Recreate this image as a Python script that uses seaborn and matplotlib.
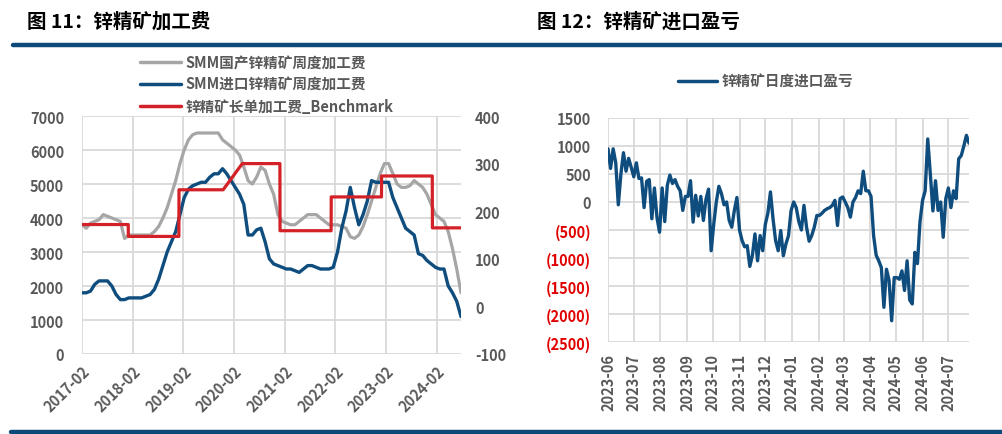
import numpy as np
import pandas as pd
import matplotlib
matplotlib.use('Agg')
import matplotlib.pyplot as plt
import matplotlib.dates as mdates
from matplotlib.lines import Line2D
import seaborn as sns

# ---------------- data ----------------
tc_start, tc_end = '2017-02-01', '2024-07-25'
# SMM domestic zinc concentrate weekly TC (yuan/t), read monthly
domestic_tc = [3800, 3700, 3850, 3900, 3950, 4100, 4050, 4000, 3950, 3900,
               3400, 3500, 3500, 3500, 3500, 3500, 3500, 3600, 3750, 4000,
               4300, 4700, 5100, 5600, 6000, 6300, 6450, 6500, 6500, 6500,
               6500, 6500, 6500, 6300, 6200, 6100, 6000, 5850, 5500, 5100,
               5000, 5200, 5500, 5400, 5000, 4700, 4100, 3900, 3850, 3800,
               3800, 3900, 4000, 4100, 4100, 4100, 4000, 3900, 3800, 3800,
               3800, 3750, 3700, 3450, 3400, 3500, 3750, 4100, 4500, 4900,
               5300, 5600, 5600, 5300, 5000, 4900, 4900, 4950, 5100, 5000,
               4900, 4700, 4400, 4100, 4000, 3900, 3600, 3100, 2500, 1800]
# SMM imported zinc concentrate weekly TC (yuan/t), read monthly
import_tc = [1800, 1800, 1850, 2050, 2150, 2150, 2150, 2000, 1750, 1600,
             1600, 1650, 1650, 1650, 1650, 1700, 1750, 1900, 2200, 2600,
             3000, 3300, 3600, 4100, 4600, 4850, 4950, 5000, 5050, 5050,
             5200, 5300, 5300, 5450, 5300, 5100, 4900, 4700, 4400, 3500,
             3500, 3650, 3700, 3300, 2800, 2650, 2600, 2550, 2500, 2500,
             2450, 2400, 2500, 2600, 2600, 2550, 2500, 2500, 2500, 2550,
             3000, 3700, 4200, 4900, 4300, 3800, 4100, 4500, 5100, 5050,
             5050, 5050, 5050, 4600, 4300, 4000, 3700, 3600, 3500, 2950,
             2900, 2750, 2650, 2550, 2500, 2500, 2000, 1800, 1550, 1100]
# Benchmark TC ($/t, right axis)
bench_dates = ['2017-02-01', '2017-12-31', '2018-01-01', '2018-12-31',
               '2019-01-01', '2019-11-15', '2020-04-01', '2020-12-28',
               '2020-12-29', '2022-01-01', '2022-01-02', '2022-12-30',
               '2022-12-31', '2023-12-31', '2024-01-01', '2024-07-25']
bench_values = [172, 172, 147, 147, 245, 245, 300, 300,
                159, 159, 230, 230, 274, 274, 165, 165]

# Zinc concentrate daily import profit/loss (yuan/t), read every 3 days
pnl_start = '2023-06-01'
pnl_values = [950, 600, 950, 700, -50, 500, 880, 550, 780, 620,
              450, 700, 420, 430, -100, 370, 400, -300, 250, -280,
              -540, 250, -350, 300, 480, 330, 400, 280, 200, -150, 100,
              100, 380, -360, 120, -250, 100, -330, 50, 230, -870,
              -400, 0, 280, 150, -50, 0, -330, -450, -150, 80,
              -500, -690, -800, -780, -1150, -950, -570, -1050, -600, -870,
              -400, -200, 180, -300, -690, -870, -510, -960, -750, -600,
              -155, 0, -100, -350, -500, -60, -450, -700, -600, -450,
              -240, -240, -200, -150, -120, -100, -60, 30, -420, 60,
              90, 0, -100, -270, 0, 80, 200, 150, 550, 200,
              200, 100, -600, -950, -1050, -1170, -1880, -1200, -1400, -2120,
              -1350, -1350, -1380, -1230, -1580, -1050, -1750, -1820, -900, -1100,
              -350, 30, 200, 1125, 500, -160, 380, -150, 0, -630,
              60, 250, -100, 200, 60, 770, 830, 1000, 1190, 1050]

left_yticks = [0, 1000, 2000, 3000, 4000, 5000, 6000, 7000]
right_yticks = [-100, 0, 100, 200, 300, 400]
pnl_yticks = [-2500, -2000, -1500, -1000, -500, 0, 500, 1000, 1500]

labels_left = ['SMM国产锌精矿周度加工费', 'SMM进口锌精矿周度加工费', '锌精矿长单加工费_Benchmark']
label_right = '锌精矿日度进口盈亏'

# ---------------- style ----------------
sns.set_theme(style='white')
plt.rcParams['font.family'] = ['Noto Sans CJK SC', 'DejaVu Sans']
plt.rcParams['axes.unicode_minus'] = False

GRAY = '#a6a6a6'
BLUE = '#0e4d7e'
RED = '#d42027'
TXT = '#595959'
GRID = '#d9d9d9'
W, H = 1003, 435

fig = plt.figure(figsize=(W / 100, H / 100), dpi=100)

def fbox(x0, y0, x1, y1):
    return [x0 / W, 1 - y1 / H, (x1 - x0) / W, (y1 - y0) / H]

# ---------------- left chart ----------------
df_tc = pd.DataFrame({
    'date': pd.date_range(tc_start, tc_end, periods=len(domestic_tc)),
    'domestic': domestic_tc,
    'import': import_tc,
})
df_b = pd.DataFrame({'date': pd.to_datetime(bench_dates), 'bench': bench_values})

ax1 = fig.add_axes(fbox(82, 117, 461, 355))
sns.lineplot(data=df_tc, x='date', y='domestic', ax=ax1, color=GRAY, lw=2.3)
sns.lineplot(data=df_tc, x='date', y='import', ax=ax1, color=BLUE, lw=2.4)
ax1.set_ylim(0, 7000)
ax1.set_yticks(left_yticks)
ax1.set_xlim(pd.Timestamp(tc_start), pd.Timestamp(tc_end))
ax1.xaxis.set_major_locator(mdates.MonthLocator(bymonth=2))
ax1.xaxis.set_major_formatter(mdates.DateFormatter('%Y-%m'))
ax1.grid(True, color=GRID, lw=1.3)
ax1.set_xlabel('')
ax1.set_ylabel('')
for s in ax1.spines.values():
    s.set_visible(False)
ax1.tick_params(axis='y', length=0, pad=13, labelsize=10.5, labelcolor=TXT)
ax1.tick_params(axis='x', length=0, pad=6, labelsize=10.5, labelcolor=TXT)
for lab in ax1.get_yticklabels():
    lab.set_fontweight('bold')
for lab in ax1.get_xticklabels():
    lab.set_fontweight('bold')
    lab.set_rotation(45)
    lab.set_ha('right')
    lab.set_va('top')
    lab.set_rotation_mode('anchor')

ax2 = ax1.twinx()
sns.lineplot(data=df_b, x='date', y='bench', ax=ax2, color=RED, lw=2.3)
ax2.set_ylim(-100, 400)
ax2.set_yticks(right_yticks)
ax2.set_ylabel('')
ax2.grid(False)
for s in ax2.spines.values():
    s.set_visible(False)
ax2.tick_params(axis='y', length=0, pad=10, labelsize=10.5, labelcolor=TXT)
for lab in ax2.get_yticklabels():
    lab.set_fontweight('bold')

handles = [Line2D([], [], color=GRAY, lw=2.5),
           Line2D([], [], color=BLUE, lw=2.5),
           Line2D([], [], color=RED, lw=2.5)]
fig.legend(handles, labels_left, loc='upper left',
           bbox_to_anchor=(140 / W, 1 - 55 / H), frameon=False,
           handlelength=2.8, handletextpad=0.3, labelspacing=0.42,
           borderpad=0, borderaxespad=0,
           prop={'size': 10.5, 'weight': 'bold'}, labelcolor=TXT)

# ---------------- right chart ----------------
df_p = pd.DataFrame({
    'date': pd.date_range(pnl_start, periods=len(pnl_values), freq='3D'),
    'pnl': pnl_values,
})
ax3 = fig.add_axes(fbox(608, 119, 969, 343))
sns.lineplot(data=df_p, x='date', y='pnl', ax=ax3, color=BLUE, lw=2.4)
ax3.set_ylim(-2500, 1500)
ax3.set_yticks(pnl_yticks)
ax3.set_yticklabels([f'({abs(v)})' if v < 0 else f'{v}' for v in pnl_yticks])
for v, lab in zip(pnl_yticks, ax3.get_yticklabels()):
    lab.set_color('#e00000' if v < 0 else TXT)
    lab.set_fontweight('bold')
ax3.set_xlim(pd.Timestamp(pnl_start), df_p['date'].iloc[-1])
ax3.xaxis.set_major_locator(mdates.MonthLocator())
ax3.xaxis.set_major_formatter(mdates.DateFormatter('%Y-%m'))
ax3.grid(True, color=GRID, lw=1.3)
ax3.set_xlabel('')
ax3.set_ylabel('')
for s in ax3.spines.values():
    s.set_visible(False)
ax3.tick_params(axis='y', length=0, pad=12, labelsize=10.5)
ax3.tick_params(axis='x', length=0, pad=8, labelsize=10.5, labelcolor=TXT)
for lab in ax3.get_xticklabels():
    lab.set_fontweight('bold')
    lab.set_rotation(90)

fig.legend([Line2D([], [], color=BLUE, lw=2.5)], [label_right], loc='center left',
           bbox_to_anchor=(678 / W, 1 - 82 / H), frameon=False,
           handlelength=2.7, handletextpad=0.3, borderpad=0, borderaxespad=0,
           prop={'size': 10.5, 'weight': 'bold'}, labelcolor=TXT)

# ---------------- titles & rules ----------------
fig.text(27 / W, 1 - 22 / H, '图 11：锌精矿加工费', fontsize=14, fontweight='bold',
         color='black', va='center', ha='left')
fig.text(537 / W, 1 - 22 / H, '图 12：锌精矿进口盈亏', fontsize=14, fontweight='bold',
         color='black', va='center', ha='left')
fig.add_artist(Line2D([13 / W, 1], [1 - 46 / H, 1 - 46 / H], color='#0d4a7a', lw=3.2))
fig.add_artist(Line2D([11 / W, 1], [1 - 432.5 / H, 1 - 432.5 / H], color='#0d4a7a', lw=3.2))

fig.savefig('out.png', dpi=100)
